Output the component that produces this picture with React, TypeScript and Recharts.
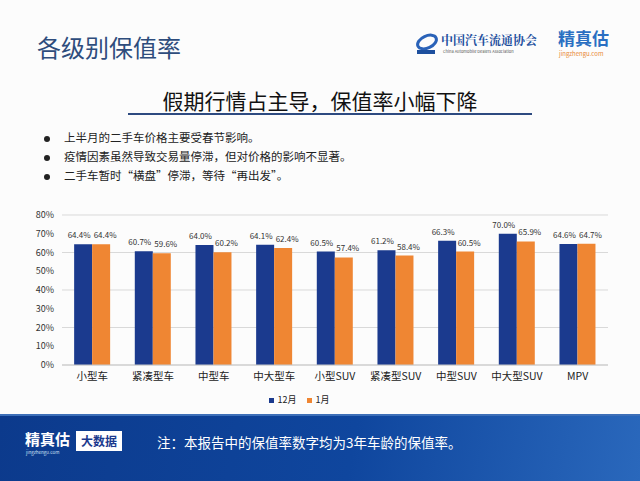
import { BarChart, Bar, XAxis, YAxis, CartesianGrid, Legend, LabelList } from 'recharts';

const categories = ['小型车', '紧凑型车', '中型车', '中大型车', '小型SUV', '紧凑型SUV', '中型SUV', '中大型SUV', 'MPV'];
const decValues = [64.4, 60.7, 64.0, 64.1, 60.5, 61.2, 66.3, 70.0, 64.6];
const janValues = [64.4, 59.6, 60.2, 62.4, 57.4, 58.4, 60.5, 65.9, 64.7];
const yTicks = [0, 10, 20, 30, 40, 50, 60, 70, 80];
const bullets = [
  '上半月的二手车价格主要受春节影响。',
  '疫情因素虽然导致交易量停滞，但对价格的影响不显著。',
  '二手车暂时“横盘”停滞，等待“再出发”。',
];

const data = categories.map((name, i) => ({ name, dec: decValues[i], jan: janValues[i] }));

const font = '"Noto Sans CJK SC", "Noto Sans", sans-serif';
const pct = (v: any) => `${Number(v).toFixed(1)}%`;

export default function App() {
  return (
    <div style={{ position: 'absolute', left: 0, top: 0, width: 640, height: 481, background: '#fcfcfc', fontFamily: font, overflow: 'hidden' }}>
      {/* header */}
      <div style={{ position: 'absolute', left: 37, top: 31, fontSize: 24, color: '#2e4c7c', lineHeight: '32px' }}>各级别保值率</div>
      <svg style={{ position: 'absolute', left: 414, top: 32 }} width={26} height={24}>
        <ellipse cx={13} cy={10} rx={10} ry={6} fill="none" stroke="#2a62b8" strokeWidth={3} transform="rotate(-25 13 10)" />
        <rect x={3} y={18} width={18} height={4} fill="#1d4f9e" />
      </svg>
      <div style={{ position: 'absolute', left: 441, top: 32, fontSize: 12, color: '#1d4f9e', fontFamily: '"Noto Serif CJK SC", serif', fontWeight: 700, lineHeight: '16px' }}>中国汽车流通协会</div>
      <div style={{ position: 'absolute', left: 443, top: 48, fontSize: 4, color: '#555', lineHeight: '6px', whiteSpace: 'nowrap' }}>China Automobile Dealers Association</div>
      <div style={{ position: 'absolute', left: 558, top: 28, fontSize: 17, color: '#2a6fc2', fontWeight: 700, lineHeight: '20px' }}>精真估</div>
      <div style={{ position: 'absolute', left: 559, top: 50, fontSize: 6, color: '#e8893a', lineHeight: '8px' }}>jingzhengu.com</div>

      {/* subtitle */}
      <div style={{ position: 'absolute', left: 0, width: 640, top: 86, textAlign: 'center', fontSize: 21, color: '#111', lineHeight: '28px' }}>假期行情占主导，保值率小幅下降</div>
      <div style={{ position: 'absolute', left: 128, top: 113, width: 404, height: 2, background: '#2d4a80' }} />

      {bullets.map((t, i) => (
        <div key={t} style={{ position: 'absolute', left: 44, top: 129 + i * 19, fontSize: 11.5, color: '#222', lineHeight: '16px', whiteSpace: 'nowrap' }}>
          <span style={{ display: 'inline-block', width: 6, height: 6, borderRadius: 3, background: '#222', marginRight: 14, verticalAlign: 'middle' }} />
          {t}
        </div>
      ))}

      {/* chart */}
      <div style={{ position: 'absolute', left: 0, top: 200 }}>
        <BarChart width={640} height={215} data={data} margin={{ top: 15, right: 32, left: 0, bottom: 4 }} barCategoryGap="20%" barGap={0}>
          <CartesianGrid vertical={false} stroke="#d9d9d9" />
          <XAxis dataKey="name" height={28} tickLine={false} stroke="#c8c8c8" tick={{ fill: '#222', fontSize: 10.5, fontFamily: font }} interval={0} />
          <YAxis width={62} domain={[0, 80]} ticks={yTicks} tickFormatter={(v) => `${v}%`} axisLine={false} tickLine={false} tick={{ fill: '#333', fontSize: 9, fontFamily: font }} />
          <Legend height={18} iconType="square" iconSize={5} wrapperStyle={{ fontSize: 9, fontFamily: font, color: '#222' }} formatter={(v) => <span style={{ color: '#222' }}>{v}</span>} />
          <Bar dataKey="dec" name="12月" fill="#1b3a8e" isAnimationActive={false}>
            <LabelList dataKey="dec" position="top" offset={6} dx={-4} formatter={pct} style={{ fontSize: 8, fill: '#333', fontFamily: font }} />
          </Bar>
          <Bar dataKey="jan" name="1月" fill="#ef8633" isAnimationActive={false}>
            <LabelList dataKey="jan" position="top" offset={6} dx={4} formatter={pct} style={{ fontSize: 8, fill: '#333', fontFamily: font }} />
          </Bar>
        </BarChart>
      </div>

      {/* footer */}
      <div style={{ position: 'absolute', left: 0, top: 414, width: 640, height: 67, background: 'linear-gradient(100deg, #0c3a8c 0%, #0f469e 55%, #2a68bc 100%)', borderTop: '2px solid #3d6fb8' }}>
        <div style={{ position: 'absolute', left: 25, top: 14, fontSize: 15, color: '#fff', fontWeight: 700, lineHeight: '18px' }}>精真估</div>
        <div style={{ position: 'absolute', left: 26, top: 33, fontSize: 4.5, color: '#cfe0f5', lineHeight: '6px' }}>jingzhengu.com</div>
        <div style={{ position: 'absolute', left: 76, top: 15, width: 46, height: 20, background: '#fff', color: '#1b3a8e', fontSize: 12, lineHeight: '20px', textAlign: 'center', fontWeight: 700 }}>大数据</div>
        <div style={{ position: 'absolute', left: 157, top: 17, fontSize: 13.5, color: '#fff', lineHeight: '18px', whiteSpace: 'nowrap' }}>注：本报告中的保值率数字均为3年车龄的保值率。</div>
      </div>
    </div>
  );
}
